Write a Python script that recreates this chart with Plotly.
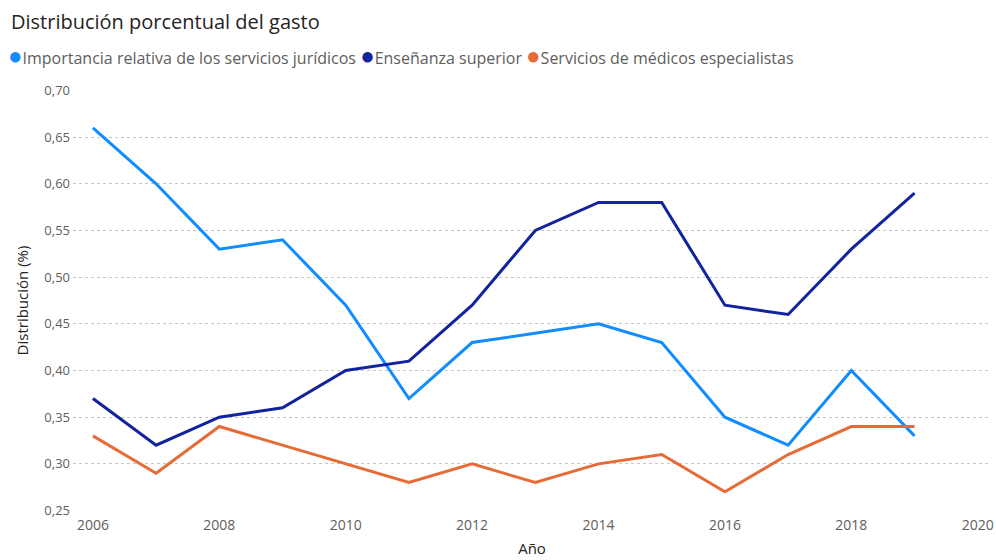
import plotly.graph_objects as go

# Yearly share of spending by service category
years = list(range(2006, 2020))
juridicos = [0.66, 0.60, 0.53, 0.54, 0.47, 0.37, 0.43, 0.44, 0.45, 0.43, 0.35, 0.32, 0.40, 0.33]
ensenanza = [0.37, 0.32, 0.35, 0.36, 0.40, 0.41, 0.47, 0.55, 0.58, 0.58, 0.47, 0.46, 0.53, 0.59]
medicos = [0.33, 0.29, 0.34, 0.32, 0.30, 0.28, 0.30, 0.28, 0.30, 0.31, 0.27, 0.31, 0.34, 0.34]

series_names = [
    "Importancia relativa de los servicios jurídicos",
    "Enseñanza superior",
    "Servicios de médicos especialistas",
]
series_values = [juridicos, ensenanza, medicos]
series_colors = ["#118DFF", "#12239E", "#E66C37"]

FONT = "Segoe UI, Open Sans, sans-serif"
W, H = 996, 560
L, R, T, B = 73, 2, 90, 49

fig = go.Figure()
for name, vals, col in zip(series_names, series_values, series_colors):
    fig.add_trace(go.Scatter(
        x=years, y=vals, name=name, mode="lines",
        line=dict(color=col, width=3), showlegend=False,
    ))

# Legend row: coloured dots followed by the series names
legend_parts = [
    f'<span style="color:{c};font-size:24px">●</span>{n}'
    for n, c in zip(series_names, series_colors)
]
fig.add_annotation(
    text=" ".join(legend_parts),
    xref="paper", yref="paper",
    x=-(L - 6) / (W - L - R), y=1 + (T - 55) / (H - T - B),
    xanchor="left", yanchor="middle", showarrow=False,
    font=dict(family=FONT, size=16, color="#605E5C"),
)

fig.update_layout(
    width=W, height=H,
    margin=dict(l=L, r=R, t=T, b=B),
    paper_bgcolor="white", plot_bgcolor="white",
    separators=",.",
    title=dict(
        text="Distribución porcentual del gasto",
        x=11 / W, xanchor="left", xref="container",
        y=1 - 22 / H, yanchor="middle", yref="container",
        font=dict(family=FONT, size=20, color="#252423"),
    ),
    xaxis=dict(
        range=[2005.685, 2020.21],
        tickmode="linear", tick0=2006, dtick=2, tickformat="d",
        showgrid=False, zeroline=False, showline=False,
        ticklabelstandoff=4, ticklabeloverflow="allow",
        tickfont=dict(family=FONT, size=14, color="#605E5C"),
        title=dict(text="Año", standoff=10,
                   font=dict(family=FONT, size=15, color="#252423")),
    ),
    yaxis=dict(
        range=[0.2495, 0.7005],
        tickmode="linear", tick0=0.25, dtick=0.05, tickformat=".2f",
        showgrid=True, gridcolor="#C8C6C4", griddash="dot", gridwidth=1,
        zeroline=False, showline=False,
        ticklabelstandoff=2,
        tickfont=dict(family=FONT, size=13, color="#605E5C"),
        title=dict(text="Distribución (%)", standoff=12,
                   font=dict(family=FONT, size=15, color="#252423")),
    ),
)

fig.write_html("out.html")
